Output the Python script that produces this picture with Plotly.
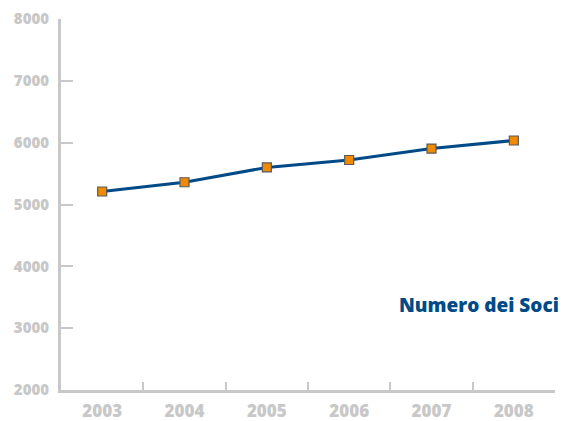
import plotly.graph_objects as go

years = ["2003", "2004", "2005", "2006", "2007", "2008"]
soci = [5210, 5360, 5600, 5720, 5905, 6035]
y_ticks = [2000, 3000, 4000, 5000, 6000, 7000, 8000]

grey = "#c8c8c8"
blue = "#004a87"

fig = go.Figure()
fig.add_trace(go.Scatter(
    x=years, y=soci, mode="lines+markers",
    line=dict(color=blue, width=3),
    marker=dict(symbol="square", size=9, color="#f08a00",
                line=dict(color="#5a5a5a", width=1.2)),
    showlegend=False, cliponaxis=False,
))

fig.update_layout(
    width=562, height=421,
    margin=dict(l=61, r=7, t=19, b=31),
    paper_bgcolor="white", plot_bgcolor="white",
    font=dict(family="Open Sans", color=grey),
    xaxis=dict(type="category", tickson="boundaries", ticks="inside",
               ticklen=8, tickwidth=2, tickcolor=grey,
               showline=True, linecolor=grey, linewidth=3,
               showgrid=False, zeroline=False, automargin=False,
               tickfont=dict(size=17, color=grey, family="Open Sans", weight=800),
               ticklabelstandoff=4,
               range=[-0.5, 5.5]),
    yaxis=dict(range=[2000, 8000], tickvals=y_ticks, ticks="inside",
               ticklen=12, tickwidth=2, tickcolor=grey,
               showline=True, linecolor=grey, linewidth=3,
               showgrid=False, zeroline=False, automargin=False,
               tickfont=dict(size=15, color=grey, family="Open Sans", weight=800),
               ticklabelstandoff=6),
    annotations=[dict(text="Numero dei Soci", xref="paper", yref="paper",
                      x=1.012, y=(3380 - 2000) / 6000, xanchor="right", yanchor="middle",
                      showarrow=False,
                      font=dict(size=19, color=blue, family="Open Sans", weight=800))],
)

fig.write_html("out.html")
